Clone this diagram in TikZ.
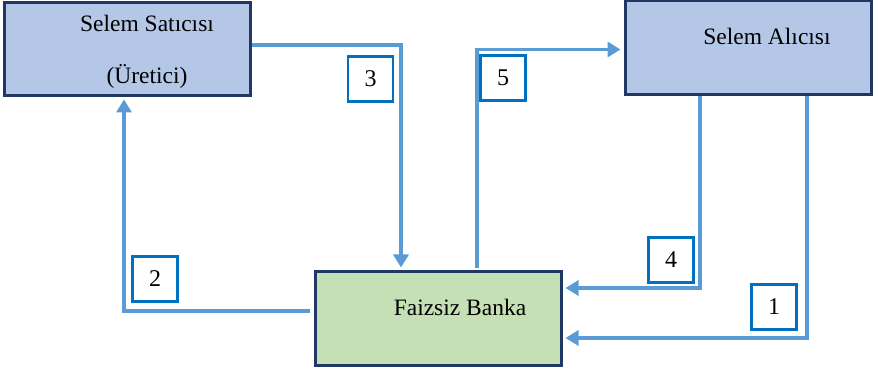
\documentclass[tikz,border=0pt]{standalone}
\usepackage{fontspec}
\setmainfont{Liberation Serif}
\usetikzlibrary{arrows.meta}
\definecolor{flowline}{HTML}{5B9BD5}
\definecolor{boxedge}{HTML}{1F3864}
\definecolor{partyfill}{HTML}{B4C7E7}
\definecolor{bankfill}{HTML}{C5E0B4}
\definecolor{tagedge}{HTML}{0070C0}
\tikzset{
  party/.style={draw=boxedge, line width=3pt, fill=partyfill, minimum width=246pt, minimum height=93pt, inner sep=0pt},
  bankbox/.style={party, fill=bankfill},
  caption/.style={font=\fontsize{23.5}{27}\selectfont, anchor=base, inner sep=0pt},
  flow/.style={draw=flowline, line width=3.6pt, -{Triangle[width=15pt,length=13pt]}},
  tag/.style={draw=tagedge, line width=2.6pt, fill=white, minimum width=45pt, minimum height=45pt, inner sep=0pt, font=\fontsize{24}{27}\selectfont}
}
\begin{document}
\begin{tikzpicture}[x=1pt, y=-1pt]
\useasboundingbox (0,0) rectangle (878,371);

% the three parties
\node[party] (seller) at (127.5,49.5) {};
\node[party, minimum height=94pt] (buyer) at (748,48) {};
\node[bankbox] (bank) at (438,318.5) {};

\node[caption] (sellername) at (147,32) {Selem Satıcısı};
\node[caption] (sellerrole) at (147,84) {(Üretici)};
\node[caption] (buyername) at (767,45) {Selem Alıcısı};
\node[caption] (bankname) at (460,316) {Faizsiz Banka};

% flows between the parties
\draw[flow] ([yshift=4.5pt]seller.east) -| ([xshift=-37pt,yshift=3pt]bank.north);
\draw[flow] ([xshift=39pt,yshift=2pt]bank.north) |- ([xshift=-3pt,yshift=-1.5pt]buyer.west);
\draw[flow] ([xshift=-48pt]buyer.south) |- ([xshift=3pt,yshift=30.5pt]bank.east);
\draw[flow] ([xshift=59pt]buyer.south) |- ([xshift=3pt,yshift=-19.5pt]bank.east);
\draw[flow] ([xshift=-4pt,yshift=7.5pt]bank.west) -| ([xshift=-3.5pt,yshift=-2pt]seller.south);

% step numbers
\node[tag] (t1) at (774,307) {1};
\node[tag] (t2) at (155,279) {2};
\node[tag] (t3) at (370.5,79) {3};
\node[tag] (t4) at (671,260) {4};
\node[tag] (t5) at (503,78) {5};
\end{tikzpicture}
\end{document}
